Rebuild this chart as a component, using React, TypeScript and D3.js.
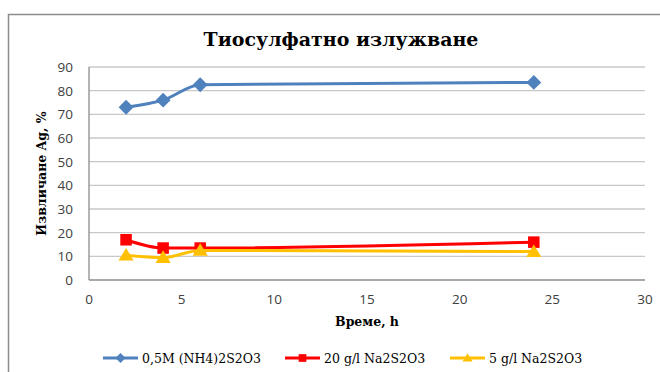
import React from "react";
import * as d3 from "d3";

const hours = [2, 4, 6, 24];
const seriesNames = ["0,5M (NH4)2S2O3", "20 g/l Na2S2O3", "5 g/l Na2S2O3"];
const ammoniumValues = [73, 76, 82.5, 83.5];
const na20Values = [17, 13.5, 13.5, 16];
const na5Values = [10.5, 9.5, 12.5, 12];
const xTicks = [0, 5, 10, 15, 20, 25, 30];
const yTicks = [0, 10, 20, 30, 40, 50, 60, 70, 80, 90];
const colors = ["#4F81BD", "#FF0000", "#FFC000"];
const markers = ["diamond", "square", "triangle"];

const W = 660;
const H = 372;
const M = { left: 89, right: 645, top: 67, bottom: 280 };

export default function App() {
  const x = d3.scaleLinear().domain([0, 30]).range([M.left, M.right]);
  const y = d3.scaleLinear().domain([0, 90]).range([M.bottom, M.top]);
  const all = [ammoniumValues, na20Values, na5Values];
  const line = d3
    .line<[number, number]>()
    .x((d) => x(d[0]))
    .y((d) => y(d[1]))
    .curve(d3.curveMonotoneX);

  const marker = (kind: string, cx: number, cy: number, color: string, s: number, key: any) => {
    if (kind === "diamond") {
      const r = s * 0.62;
      return (
        <path key={key} d={`M${cx},${cy - r}L${cx + r},${cy}L${cx},${cy + r}L${cx - r},${cy}Z`} fill={color} />
      );
    }
    if (kind === "square") {
      const r = s * 0.48;
      return <rect key={key} x={cx - r} y={cy - r} width={2 * r} height={2 * r} fill={color} />;
    }
    const r = s * 0.6;
    return (
      <path key={key} d={`M${cx},${cy - r}L${cx + r * 1.05},${cy + r * 0.75}L${cx - r * 1.05},${cy + r * 0.75}Z`} fill={color} />
    );
  };

  const legendX = [103, 285, 450];
  const legendY = 358;

  return (
    <svg width={W} height={H} style={{ position: "absolute", left: 0, top: 0, background: "#fff" }}>
      <rect x={8.5} y={14.5} width={680} height={400} fill="#fff" stroke="#8c8c8c" strokeWidth={1.5} />
      <text
        x={341}
        y={46}
        textAnchor="middle"
        fontFamily="'DejaVu Serif', serif"
        fontWeight="bold"
        fontSize={19}
        fill="#000"
      >
        Тиосулфатно излужване
      </text>
      {yTicks.map((t) => (
        <line key={"g" + t} x1={M.left} x2={M.right} y1={y(t)} y2={y(t)} stroke={t === 0 ? "#8c8c8c" : "#c8c8c8"} strokeWidth={1.3} />
      ))}
      <line x1={M.left} x2={M.left} y1={M.top} y2={M.bottom} stroke="#8c8c8c" strokeWidth={1.3} />
      {yTicks.map((t) => (
        <text key={"yt" + t} x={73} y={y(t) + 5} textAnchor="end" fontFamily="'Open Sans', sans-serif" fontSize={13.5} fill="#404040">
          {t}
        </text>
      ))}
      {xTicks.map((t) => (
        <text key={"xt" + t} x={x(t)} y={304} textAnchor="middle" fontFamily="'Open Sans', sans-serif" fontSize={13.5} fill="#404040">
          {t}
        </text>
      ))}
      <text x={367} y={326} textAnchor="middle" fontFamily="'DejaVu Serif', serif" fontWeight="bold" fontSize={12.5} fill="#000">
        Време, h
      </text>
      <text
        transform={`translate(46,${(M.top + M.bottom) / 2}) rotate(-90)`}
        textAnchor="middle"
        fontFamily="'DejaVu Serif', serif"
        fontWeight="bold"
        fontSize={12.5}
        fill="#000"
      >
        Извличане Ag, %
      </text>
      {all.map((vals, i) => (
        <g key={"s" + i}>
          <path
            d={line(hours.map((h, j) => [h, vals[j]] as [number, number])) || ""}
            fill="none"
            stroke={colors[i]}
            strokeWidth={3}
          />
          {hours.map((h, j) => marker(markers[i], x(h), y(vals[j]), colors[i], 12, j))}
        </g>
      ))}
      {seriesNames.map((n, i) => (
        <g key={"l" + i}>
          <line x1={legendX[i]} x2={legendX[i] + 35} y1={legendY} y2={legendY} stroke={colors[i]} strokeWidth={3} />
          {marker(markers[i], legendX[i] + 17.5, legendY, colors[i], 8, "m")}
          <text x={legendX[i] + 39} y={legendY + 4.5} fontFamily="'DejaVu Serif', serif" fontSize={12.5} fill="#000">
            {n}
          </text>
        </g>
      ))}
    </svg>
  );
}
